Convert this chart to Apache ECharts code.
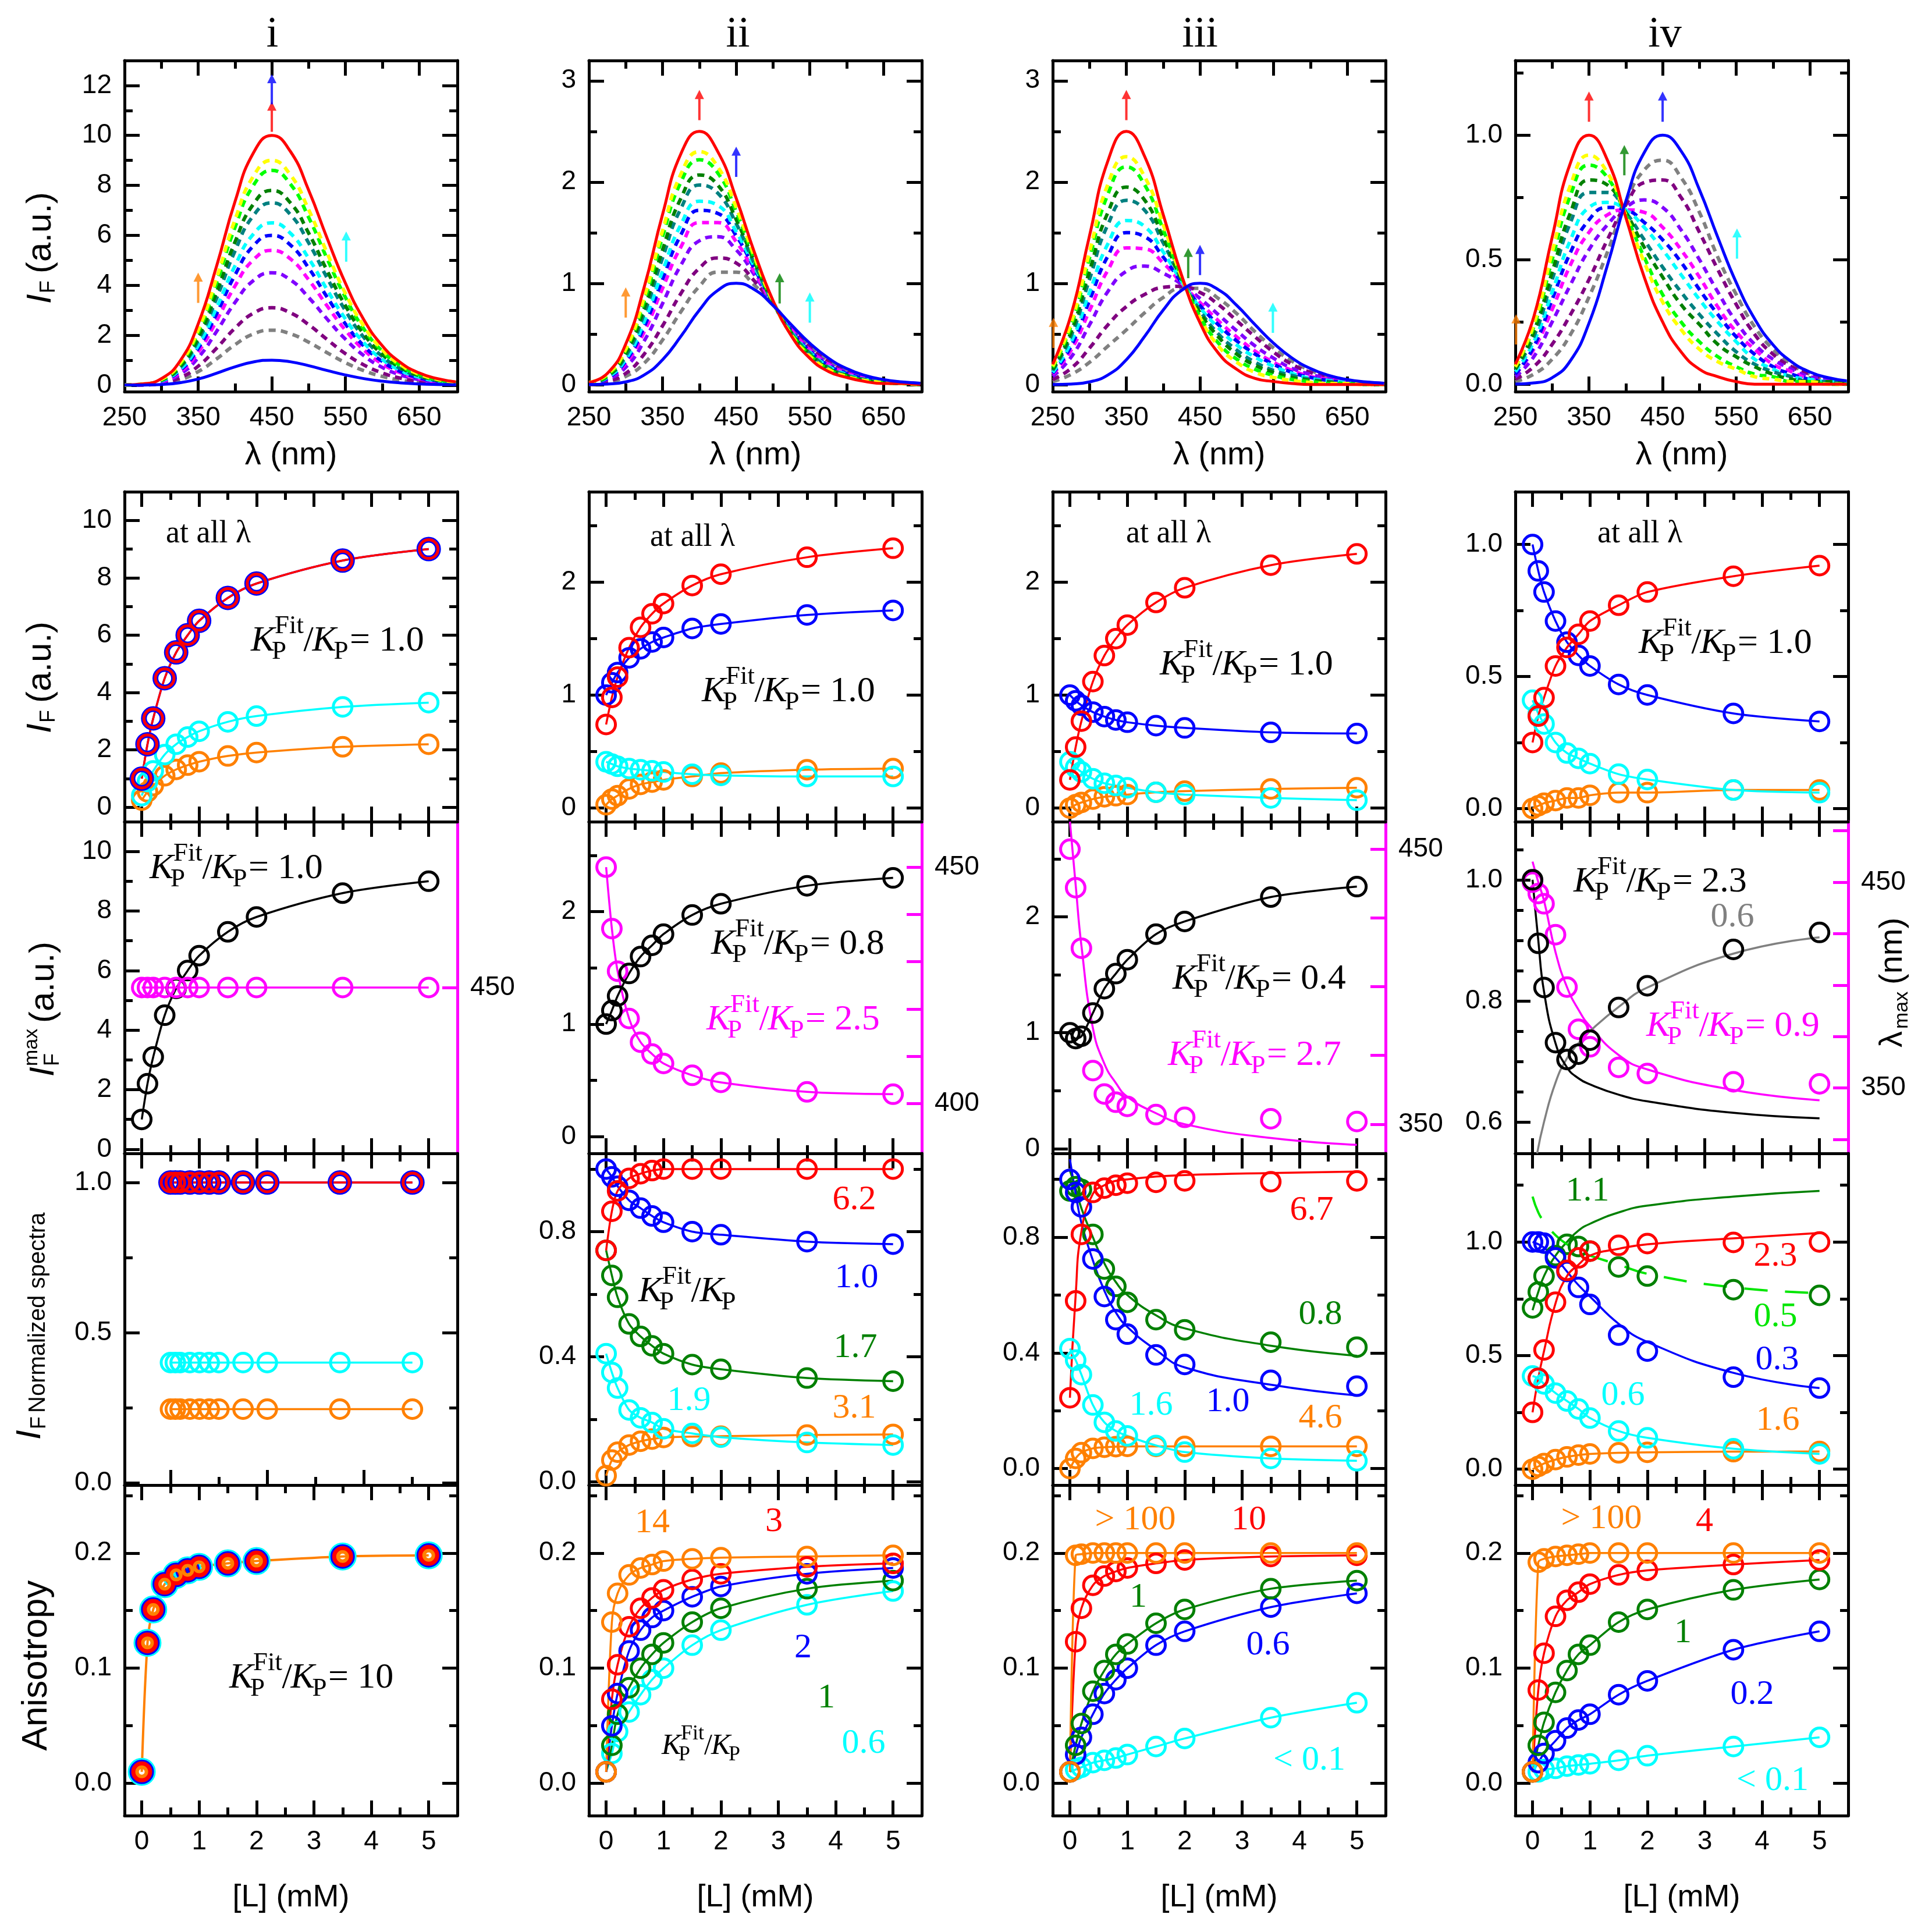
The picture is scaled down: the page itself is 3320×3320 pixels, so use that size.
<!DOCTYPE html>
<html>
<head>
<meta charset="utf-8">
<title>Titration panels</title>
<script src="https://cdn.jsdelivr.net/npm/echarts@6.0.0/dist/echarts.min.js"></script>
<style>
  html, body { margin: 0; padding: 0; background: #ffffff; }
  #chart { width: 3320px; height: 3320px; }
</style>
</head>
<body>
<div id="chart"></div>
<script>
// ---------- row 1: emission spectra, read every 25 nm ----------
const specNm = [250, 275, 300, 325, 350, 375, 400, 425, 450, 475, 500, 525, 550, 575, 600, 625, 650, 675, 700];
// free (blue, no ligand) spectrum, same in every column
const freeSpec = [0.0005, 0.005, 0.026, 0.095, 0.245, 0.477, 0.735, 0.93, 1, 0.937, 0.781, 0.589, 0.408, 0.262, 0.158, 0.09, 0.049, 0.026, 0.013];
// bound (red) spectra
const boundI = [0.01, 0.05, 0.26, 0.95, 2.45, 4.77, 7.35, 9.3, 10, 9.37, 7.81, 5.89, 4.08, 2.62, 1.58, 0.9, 0.49, 0.26, 0.13];
const boundII = [0.02, 0.11, 0.4, 0.96, 1.68, 2.28, 2.5, 2.3, 1.84, 1.3, 0.83, 0.48, 0.26, 0.13, 0.07, 0.03, 0.01, 0.01, 0];
const boundIII = [0.2, 0.69, 1.47, 2.21, 2.5, 2.25, 1.68, 1.08, 0.61, 0.31, 0.15, 0.06, 0.03, 0.01, 0, 0, 0, 0, 0];
const boundIV = [0.08, 0.27, 0.59, 0.89, 1, 0.9, 0.67, 0.43, 0.25, 0.13, 0.06, 0.03, 0.01, 0, 0, 0, 0, 0, 0];
// dashed spectra at [L] = 0.1 ... 5 mM
const titrI = [
  [0, 0.01, 0.06, 0.21, 0.54, 1.05, 1.62, 2.05, 2.2, 2.06, 1.72, 1.3, 0.9, 0.58, 0.35, 0.2, 0.11, 0.06, 0.03],
  [0, 0.01, 0.08, 0.29, 0.76, 1.48, 2.28, 2.88, 3.1, 2.9, 2.42, 1.83, 1.26, 0.81, 0.49, 0.28, 0.15, 0.08, 0.04],
  [0, 0.02, 0.12, 0.43, 1.1, 2.15, 3.31, 4.19, 4.5, 4.22, 3.51, 2.65, 1.84, 1.18, 0.71, 0.41, 0.22, 0.12, 0.06],
  [0, 0.02, 0.14, 0.51, 1.32, 2.58, 3.97, 5.02, 5.4, 5.06, 4.22, 3.18, 2.2, 1.41, 0.85, 0.49, 0.26, 0.14, 0.07],
  [0, 0.03, 0.16, 0.57, 1.47, 2.86, 4.41, 5.58, 6, 5.62, 4.69, 3.53, 2.45, 1.57, 0.95, 0.54, 0.29, 0.16, 0.08],
  [0, 0.03, 0.17, 0.62, 1.59, 3.1, 4.78, 6.05, 6.5, 6.09, 5.08, 3.83, 2.65, 1.7, 1.03, 0.59, 0.32, 0.17, 0.08],
  [0, 0.03, 0.19, 0.69, 1.79, 3.48, 5.37, 6.79, 7.3, 6.84, 5.7, 4.3, 2.98, 1.91, 1.15, 0.66, 0.36, 0.19, 0.09],
  [0, 0.04, 0.2, 0.74, 1.91, 3.72, 5.73, 7.25, 7.8, 7.31, 6.09, 4.59, 3.18, 2.04, 1.23, 0.7, 0.38, 0.2, 0.1],
  [0, 0.04, 0.22, 0.82, 2.11, 4.1, 6.32, 8, 8.6, 8.06, 6.72, 5.07, 3.51, 2.25, 1.36, 0.77, 0.42, 0.22, 0.11],
  [0, 0.04, 0.23, 0.86, 2.21, 4.29, 6.62, 8.37, 9, 8.43, 7.03, 5.3, 3.67, 2.36, 1.42, 0.81, 0.44, 0.23, 0.12]
];
const titrII = [
  [0, 0.02, 0.08, 0.21, 0.44, 0.72, 0.97, 1.11, 1.11, 0.98, 0.79, 0.57, 0.39, 0.24, 0.15, 0.08, 0.04, 0.02, 0.01],
  [0, 0.03, 0.11, 0.3, 0.58, 0.9, 1.15, 1.25, 1.2, 1.02, 0.79, 0.56, 0.37, 0.23, 0.14, 0.08, 0.04, 0.02, 0.01],
  [0.01, 0.05, 0.17, 0.43, 0.8, 1.18, 1.42, 1.46, 1.33, 1.08, 0.8, 0.55, 0.35, 0.21, 0.12, 0.07, 0.04, 0.02, 0.01],
  [0.01, 0.06, 0.21, 0.52, 0.95, 1.36, 1.6, 1.6, 1.41, 1.11, 0.8, 0.54, 0.34, 0.2, 0.11, 0.06, 0.03, 0.02, 0.01],
  [0.01, 0.06, 0.23, 0.57, 1.04, 1.48, 1.72, 1.69, 1.47, 1.14, 0.81, 0.53, 0.33, 0.19, 0.11, 0.06, 0.03, 0.01, 0.01],
  [0.01, 0.07, 0.25, 0.62, 1.12, 1.58, 1.81, 1.77, 1.51, 1.16, 0.81, 0.52, 0.32, 0.18, 0.1, 0.05, 0.03, 0.01, 0.01],
  [0.01, 0.08, 0.28, 0.7, 1.25, 1.74, 1.97, 1.89, 1.59, 1.19, 0.81, 0.51, 0.31, 0.17, 0.09, 0.05, 0.02, 0.01, 0.01],
  [0.01, 0.08, 0.31, 0.75, 1.33, 1.84, 2.07, 1.97, 1.63, 1.21, 0.81, 0.51, 0.3, 0.16, 0.09, 0.04, 0.02, 0.01, 0.01],
  [0.02, 0.09, 0.34, 0.82, 1.46, 2, 2.22, 2.09, 1.71, 1.24, 0.82, 0.5, 0.29, 0.15, 0.08, 0.04, 0.02, 0.01, 0],
  [0.02, 0.1, 0.35, 0.86, 1.52, 2.08, 2.3, 2.15, 1.75, 1.26, 0.82, 0.49, 0.28, 0.15, 0.08, 0.04, 0.02, 0.01, 0]
];
const titrIII = [
  [0.03, 0.1, 0.22, 0.38, 0.54, 0.71, 0.86, 0.95, 0.95, 0.85, 0.7, 0.52, 0.36, 0.23, 0.14, 0.08, 0.04, 0.02, 0.01],
  [0.05, 0.16, 0.36, 0.59, 0.77, 0.89, 0.96, 0.97, 0.91, 0.79, 0.63, 0.47, 0.32, 0.2, 0.12, 0.07, 0.04, 0.02, 0.01],
  [0.08, 0.27, 0.59, 0.92, 1.12, 1.17, 1.1, 0.99, 0.85, 0.69, 0.53, 0.38, 0.26, 0.16, 0.1, 0.06, 0.03, 0.02, 0.01],
  [0.1, 0.34, 0.73, 1.13, 1.35, 1.34, 1.2, 1, 0.81, 0.63, 0.47, 0.33, 0.22, 0.14, 0.08, 0.05, 0.02, 0.01, 0.01],
  [0.11, 0.38, 0.83, 1.27, 1.5, 1.46, 1.26, 1.01, 0.78, 0.59, 0.43, 0.3, 0.2, 0.12, 0.07, 0.04, 0.02, 0.01, 0.01],
  [0.12, 0.42, 0.91, 1.39, 1.62, 1.56, 1.31, 1.02, 0.76, 0.56, 0.39, 0.27, 0.18, 0.11, 0.06, 0.04, 0.02, 0.01, 0.01],
  [0.14, 0.48, 1.04, 1.58, 1.82, 1.72, 1.4, 1.04, 0.73, 0.5, 0.34, 0.22, 0.14, 0.09, 0.05, 0.03, 0.01, 0.01, 0],
  [0.15, 0.52, 1.12, 1.7, 1.95, 1.82, 1.45, 1.04, 0.71, 0.47, 0.3, 0.19, 0.12, 0.07, 0.04, 0.02, 0.01, 0.01, 0],
  [0.17, 0.58, 1.25, 1.88, 2.15, 1.97, 1.53, 1.06, 0.67, 0.41, 0.25, 0.15, 0.09, 0.05, 0.03, 0.01, 0.01, 0, 0],
  [0.18, 0.61, 1.31, 1.98, 2.25, 2.05, 1.58, 1.06, 0.66, 0.38, 0.22, 0.12, 0.07, 0.04, 0.02, 0.01, 0.01, 0, 0]
];
const titrIV = [
  [0.01, 0.04, 0.1, 0.2, 0.35, 0.53, 0.73, 0.86, 0.9, 0.83, 0.69, 0.51, 0.36, 0.23, 0.14, 0.08, 0.04, 0.02, 0.01],
  [0.02, 0.07, 0.16, 0.28, 0.42, 0.58, 0.72, 0.81, 0.82, 0.75, 0.61, 0.46, 0.32, 0.2, 0.12, 0.07, 0.04, 0.02, 0.01],
  [0.03, 0.11, 0.25, 0.4, 0.54, 0.64, 0.71, 0.74, 0.71, 0.62, 0.5, 0.37, 0.25, 0.16, 0.1, 0.06, 0.03, 0.02, 0.01],
  [0.04, 0.14, 0.3, 0.48, 0.61, 0.68, 0.7, 0.69, 0.63, 0.54, 0.43, 0.31, 0.21, 0.14, 0.08, 0.05, 0.02, 0.01, 0.01],
  [0.04, 0.15, 0.34, 0.53, 0.66, 0.71, 0.7, 0.65, 0.58, 0.49, 0.38, 0.28, 0.19, 0.12, 0.07, 0.04, 0.02, 0.01, 0.01],
  [0.05, 0.17, 0.37, 0.58, 0.71, 0.73, 0.7, 0.63, 0.54, 0.44, 0.34, 0.25, 0.17, 0.1, 0.06, 0.03, 0.02, 0.01, 0.01],
  [0.06, 0.19, 0.42, 0.65, 0.77, 0.77, 0.69, 0.58, 0.47, 0.37, 0.28, 0.2, 0.13, 0.08, 0.05, 0.03, 0.01, 0.01, 0],
  [0.06, 0.21, 0.45, 0.69, 0.82, 0.8, 0.69, 0.55, 0.43, 0.32, 0.24, 0.16, 0.11, 0.07, 0.04, 0.02, 0.01, 0.01, 0],
  [0.07, 0.23, 0.5, 0.76, 0.88, 0.83, 0.68, 0.51, 0.36, 0.25, 0.17, 0.11, 0.07, 0.04, 0.03, 0.01, 0.01, 0, 0],
  [0.07, 0.24, 0.53, 0.8, 0.92, 0.85, 0.68, 0.49, 0.33, 0.22, 0.14, 0.09, 0.06, 0.03, 0.02, 0.01, 0.01, 0, 0]
];
const dashColors = ['#808080', '#800080', '#8000ff', '#ff00ff', '#0000ff', '#00ffff', '#008080', '#008000', '#00ff00', '#ffff00'];
// arrows marking the read-out wavelengths: [nm, height, colour]
const arrowsI = [[350, 3.9, '#ff8000'], [450, 10.75, '#ff0000'], [450, 11.85, '#0000ff'], [551, 5.55, '#00ffff']];
const arrowsII = [[300, 0.81, '#ff8000'], [400, 2.76, '#ff0000'], [450, 2.2, '#0000ff'], [509, 0.95, '#008000'], [550, 0.76, '#00ffff']];
const arrowsIII = [[251, 0.51, '#ff8000'], [350, 2.76, '#ff0000'], [434, 1.2, '#008000'], [450, 1.23, '#0000ff'], [549, 0.66, '#00ffff']];
const arrowsIV = [[251, 0.22, '#ff8000'], [350, 1.115, '#ff0000'], [398, 0.9, '#008000'], [450, 1.115, '#0000ff'], [551, 0.565, '#00ffff']];

// ---------- rows 2-5: titration points, [L] in mM ----------
const L = [0, 0.1, 0.2, 0.4, 0.6, 0.8, 1.0, 1.5, 2.0, 3.5, 5.0];
const grayL = [0.08, 0.2, 0.4, 0.6, 0.8, 1.0, 1.5, 2.0, 3.5, 5.0];

// row 2: I_F at the arrow wavelengths
const r2iRed = [1.0, 2.2, 3.1, 4.5, 5.4, 6.0, 6.5, 7.3, 7.8, 8.6, 9.0];
const r2iBlue = [1.0, 2.2, 3.1, 4.5, 5.4, 6.0, 6.5, 7.3, 7.8, 8.6, 9.0];
const r2iCyan = [0.41, 0.9, 1.27, 1.84, 2.2, 2.45, 2.65, 2.98, 3.18, 3.5, 3.65];
const r2iOrange = [0.25, 0.54, 0.76, 1.1, 1.32, 1.47, 1.59, 1.79, 1.91, 2.11, 2.2];
const r2iiRed = [0.74, 0.98, 1.16, 1.42, 1.6, 1.72, 1.81, 1.97, 2.07, 2.22, 2.3];
const r2iiBlue = [1.0, 1.11, 1.2, 1.33, 1.41, 1.47, 1.51, 1.59, 1.63, 1.71, 1.75];
const r2iiCyan = [0.41, 0.39, 0.37, 0.35, 0.34, 0.33, 0.32, 0.3, 0.29, 0.28, 0.28];
const r2iiOrange = [0.03, 0.08, 0.11, 0.17, 0.21, 0.23, 0.25, 0.28, 0.31, 0.34, 0.35];
const r2iiiRed = [0.25, 0.54, 0.77, 1.12, 1.35, 1.5, 1.62, 1.82, 1.95, 2.15, 2.25];
const r2iiiBlue = [1.0, 0.95, 0.91, 0.85, 0.81, 0.78, 0.76, 0.73, 0.71, 0.67, 0.66];
const r2iiiCyan = [0.41, 0.36, 0.32, 0.26, 0.22, 0.2, 0.18, 0.14, 0.12, 0.09, 0.07];
const r2iiiOrange = [0, 0.03, 0.05, 0.08, 0.1, 0.11, 0.12, 0.14, 0.15, 0.17, 0.18];
const r2ivRed = [0.25, 0.35, 0.42, 0.54, 0.61, 0.66, 0.71, 0.77, 0.82, 0.88, 0.92];
const r2ivBlue = [1.0, 0.9, 0.82, 0.71, 0.63, 0.58, 0.54, 0.47, 0.43, 0.36, 0.33];
const r2ivCyan = [0.41, 0.36, 0.32, 0.25, 0.21, 0.19, 0.17, 0.13, 0.11, 0.07, 0.06];
const r2ivOrange = [0, 0.01, 0.02, 0.03, 0.04, 0.04, 0.05, 0.06, 0.06, 0.07, 0.07];

// row 3: I_F max (left) and lambda max (right, nm)
const r3iMax = [1.0, 2.2, 3.1, 4.5, 5.4, 6.0, 6.5, 7.3, 7.8, 8.6, 9.0];
const r3iLam = [450, 450, 450, 450, 450, 450, 450, 450, 450, 450, 450];
const r3iiMax = [1.0, 1.12, 1.25, 1.45, 1.6, 1.7, 1.8, 1.97, 2.07, 2.23, 2.3];
const r3iiLam = [450, 437, 428, 418, 413, 410.5, 408.5, 406, 404.5, 402.5, 402];
const r3iiiMax = [1.0, 0.95, 0.97, 1.17, 1.38, 1.51, 1.63, 1.85, 1.96, 2.17, 2.26];
const r3iiiLam = [450, 436, 414, 369.5, 361, 358, 356.5, 353.5, 352.5, 352, 351];
const r3iiiLamFit = [460, 437, 415, 385, 372, 365, 360, 354, 350, 345, 342.5];
const r3ivMax = [1.0, 0.895, 0.822, 0.731, 0.703, 0.712, 0.735, 0.789, 0.825, 0.885, 0.913];
const r3ivMaxFit = [1.0, 0.9, 0.815, 0.73, 0.69, 0.672, 0.662, 0.645, 0.634, 0.615, 0.606];
const r3ivMaxFit2 = [0.548, 0.6, 0.665, 0.705, 0.73, 0.75, 0.79, 0.822, 0.878, 0.905];
const r3ivLam = [450, 444.5, 439.5, 424.5, 399, 378.5, 370, 360, 357, 353, 352];
const r3ivLamFit = [460, 450, 441, 416, 399, 388, 380, 366, 359, 349, 344];

// row 4: normalized spectra
const r4iRed = [1, 1, 1, 1, 1, 1, 1, 1, 1, 1, 1];
const r4iBlue = [1, 1, 1, 1, 1, 1, 1, 1, 1, 1, 1];
const r4iCyan = [0.4, 0.4, 0.4, 0.4, 0.4, 0.4, 0.4, 0.4, 0.4, 0.4, 0.4];
const r4iOrange = [0.245, 0.245, 0.245, 0.245, 0.245, 0.245, 0.245, 0.245, 0.245, 0.245, 0.245];
const r4iiRed = [0.74, 0.865, 0.93, 0.97, 0.985, 0.995, 1.0, 1.0, 1.0, 1.0, 1.0];
const r4iiBlue = [1.0, 0.975, 0.945, 0.9, 0.875, 0.85, 0.83, 0.8, 0.79, 0.768, 0.76];
const r4iiGreen = [0.74, 0.66, 0.59, 0.505, 0.465, 0.435, 0.41, 0.375, 0.36, 0.332, 0.322];
const r4iiCyan = [0.41, 0.35, 0.3, 0.23, 0.205, 0.19, 0.17, 0.155, 0.143, 0.126, 0.118];
const r4iiOrange = [0.02, 0.07, 0.095, 0.118, 0.13, 0.137, 0.142, 0.145, 0.146, 0.15, 0.152];
const r4iiiRed = [0.245, 0.58, 0.81, 0.955, 0.97, 0.98, 0.987, 0.99, 0.995, 0.992, 0.995];
const r4iiiRedFit = [0.245, 0.6, 0.82, 0.95, 0.98, 0.995, 1.0, 1.01, 1.015, 1.022, 1.027];
const r4iiiBlue = [1.0, 0.955, 0.905, 0.725, 0.595, 0.515, 0.465, 0.393, 0.36, 0.305, 0.285];
const r4iiiBlueFit = [1.07, 0.95, 0.85, 0.72, 0.615, 0.54, 0.49, 0.41, 0.35, 0.29, 0.253];
const r4iiiGreen = [0.96, 0.975, 0.965, 0.81, 0.69, 0.63, 0.575, 0.515, 0.48, 0.437, 0.42];
const r4iiiGreenFit = [1.03, 0.97, 0.9, 0.8, 0.71, 0.645, 0.6, 0.53, 0.485, 0.425, 0.39];
const r4iiiCyan = [0.415, 0.375, 0.325, 0.22, 0.16, 0.13, 0.113, 0.08, 0.057, 0.035, 0.027];
const r4iiiOrange = [0, 0.035, 0.055, 0.07, 0.074, 0.076, 0.077, 0.077, 0.077, 0.077, 0.077];
const r4ivRed = [0.25, 0.4, 0.525, 0.735, 0.875, 0.93, 0.96, 0.985, 0.993, 0.998, 1.0];
const r4ivRedFit = [0.25, 0.4, 0.52, 0.73, 0.85, 0.9, 0.94, 0.97, 0.99, 1.016, 1.04];
const r4ivBlue = [1.0, 1.0, 0.995, 0.93, 0.87, 0.8, 0.725, 0.59, 0.52, 0.405, 0.357];
const r4ivBlueFit = [1.0, 0.99, 0.975, 0.93, 0.87, 0.81, 0.76, 0.64, 0.56, 0.424, 0.357];
const r4ivGreen = [0.71, 0.78, 0.85, 0.94, 0.99, 0.98, 0.96, 0.89, 0.85, 0.79, 0.765];
const r4ivGreenFit = [0.7, 0.78, 0.85, 0.94, 1.0, 1.05, 1.08, 1.13, 1.16, 1.2, 1.225];
const r4ivGreenFit2 = [1.2, 1.13, 1.09, 1.03, 0.99, 0.96, 0.94, 0.9, 0.86, 0.8, 0.775];
const r4ivCyan = [0.41, 0.4, 0.375, 0.335, 0.3, 0.265, 0.225, 0.168, 0.138, 0.09, 0.067];
const r4ivOrange = [0, 0.012, 0.025, 0.042, 0.054, 0.062, 0.067, 0.072, 0.074, 0.077, 0.078];

// row 5: anisotropy
const r5iAll = [0.01, 0.122, 0.151, 0.173, 0.181, 0.185, 0.188, 0.191, 0.193, 0.197, 0.198];
const r5iiOrange = [0.01, 0.14, 0.165, 0.181, 0.187, 0.19, 0.193, 0.195, 0.196, 0.197, 0.198];
const r5iiRed = [0.01, 0.073, 0.103, 0.136, 0.152, 0.161, 0.168, 0.177, 0.182, 0.188, 0.191];
const r5iiBlue = [0.01, 0.05, 0.078, 0.115, 0.133, 0.144, 0.15, 0.162, 0.171, 0.182, 0.187];
const r5iiGreen = [0.01, 0.033, 0.06, 0.083, 0.1, 0.112, 0.122, 0.14, 0.152, 0.169, 0.176];
const r5iiCyan = [0.01, 0.026, 0.045, 0.062, 0.077, 0.09, 0.1, 0.12, 0.133, 0.155, 0.167];
const r5iiiOrange = [0.01, 0.198, 0.199, 0.2, 0.2, 0.2, 0.2, 0.2, 0.2, 0.2, 0.2];
const r5iiiRed = [0.01, 0.123, 0.152, 0.172, 0.18, 0.184, 0.187, 0.191, 0.194, 0.197, 0.198];
const r5iiiGreen = [0.01, 0.033, 0.052, 0.08, 0.098, 0.112, 0.121, 0.139, 0.151, 0.169, 0.176];
const r5iiiBlue = [0.01, 0.025, 0.04, 0.06, 0.078, 0.09, 0.1, 0.12, 0.132, 0.153, 0.165];
const r5iiiCyan = [0.01, 0.012, 0.014, 0.018, 0.02, 0.022, 0.025, 0.032, 0.039, 0.057, 0.07];
const r5ivOrange = [0.01, 0.192, 0.195, 0.197, 0.198, 0.199, 0.2, 0.2, 0.2, 0.2, 0.2];
const r5ivRed = [0.01, 0.081, 0.113, 0.145, 0.159, 0.166, 0.173, 0.181, 0.185, 0.19, 0.194];
const r5ivGreen = [0.01, 0.033, 0.053, 0.079, 0.098, 0.112, 0.12, 0.14, 0.151, 0.168, 0.177];
const r5ivBlue = [0.01, 0.018, 0.026, 0.037, 0.048, 0.055, 0.06, 0.077, 0.089, 0.116, 0.132];
const r5ivCyan = [0.01, 0.01, 0.012, 0.013, 0.015, 0.016, 0.017, 0.02, 0.024, 0.032, 0.04];

// ---------- layout ----------
const colLeft = [214, 1012, 1809, 2604];
const colW = 572;
const rowTop = [104, 845, 1412, 1982, 2552];
const rowH = [569, 567, 570, 570, 568];

const sans = "'Liberation Sans', Arial, sans-serif";
const serif = "'Liberation Serif', 'Times New Roman', serif";
const C = { red: '#ff0000', blue: '#0000ff', cyan: '#00ffff', orange: '#ff8000', green: '#008000',
            lime: '#00e600', magenta: '#ff00ff', black: '#000000', gray: '#808080' };

// axis tick / range specs
const xNm = { min: 250, max: 702, major: [250, 350, 450, 550, 650], minor: [300, 400, 500, 600] };
const xConc = { min: -0.3, max: 5.5, major: [0, 1, 2, 3, 4, 5], minor: [0.5, 1.5, 2.5, 3.5, 4.5] };
const xConcAlt = { min: -0.95, max: 5.93, major: [0, 2, 4], minor: [1, 3, 5] };
const ySpecs = [
  [ { min: -0.26, max: 13, major: [0, 2, 4, 6, 8, 10, 12], minor: [1, 3, 5, 7, 9, 11] },
    { min: -0.07, max: 3.2, major: [0, 1, 2, 3], minor: [0.5, 1.5, 2.5] },
    { min: -0.07, max: 3.2, major: [0, 1, 2, 3], minor: [0.5, 1.5, 2.5] },
    { min: -0.03, max: 1.3, major: [0, 0.5, 1], minor: [0.25, 0.75, 1.25], dec: 1 } ],
  [ { min: -0.5, max: 11, major: [0, 2, 4, 6, 8, 10], minor: [1, 3, 5, 7, 9] },
    { min: -0.12, max: 2.8, major: [0, 1, 2], minor: [0.5, 1.5, 2.5] },
    { min: -0.12, max: 2.8, major: [0, 1, 2], minor: [0.5, 1.5, 2.5] },
    { min: -0.05, max: 1.2, major: [0, 0.5, 1], minor: [0.25, 0.75], dec: 1 } ],
  [ { min: -0.14, max: 11, major: [0, 2, 4, 6, 8, 10], minor: [1, 3, 5, 7, 9] },
    { min: -0.15, max: 2.8, major: [0, 1, 2], minor: [0.5, 1.5, 2.5] },
    { min: -0.04, max: 2.82, major: [0, 1, 2], minor: [0.5, 1.5, 2.5] },
    { min: 0.548, max: 1.096, major: [0.6, 0.8, 1.0], minor: [0.65, 0.7, 0.75, 0.85, 0.9, 0.95, 1.05], dec: 1 } ],
  [ { min: -0.008, max: 1.097, major: [0, 0.5, 1], minor: [0.25, 0.75], dec: 1 },
    { min: -0.01, max: 1.05, major: [0, 0.4, 0.8], minor: [0.2, 0.6, 1.0], dec: 1 },
    { min: -0.057, max: 1.09, major: [0, 0.4, 0.8], minor: [0.2, 0.6, 1.0], dec: 1 },
    { min: -0.07, max: 1.39, major: [0, 0.5, 1], minor: [0.25, 0.75, 1.25], dec: 1 } ],
  [ { min: -0.028, max: 0.259, major: [0, 0.1, 0.2], minor: [0.05, 0.15, 0.25], dec: 1 },
    { min: -0.028, max: 0.259, major: [0, 0.1, 0.2], minor: [0.05, 0.15, 0.25], dec: 1 },
    { min: -0.028, max: 0.259, major: [0, 0.1, 0.2], minor: [0.05, 0.15, 0.25], dec: 1 },
    { min: -0.028, max: 0.259, major: [0, 0.1, 0.2], minor: [0.05, 0.15, 0.25], dec: 1 } ]
];
const yRight = [
  { min: 440, max: 460, major: [450], minor: [] },
  { min: 389.5, max: 459.6, major: [400, 410, 420, 430, 440, 450], labels: [400, 450], minor: [] },
  { min: 339.4, max: 460, major: [350, 375, 400, 425, 450], labels: [350, 450], minor: [] },
  { min: 318.2, max: 479.4, major: [325, 350, 375, 400, 425, 450, 475], labels: [350, 450], minor: [] }
];

const grids = [], xAxes = [], yAxes = [], series = [], graphics = [];
const zip = (xs, ys) => xs.map((x, i) => [x, ys[i]]);

function addAxis(list, gi, pos, spec, labels, color) {
  const col = color || '#000';
  const fmt = v => Number(v).toFixed(spec.dec || 0);
  list.push({
    type: 'value', gridIndex: gi, position: pos, min: spec.min, max: spec.max,
    axisLine: { show: true, onZero: false, lineStyle: { color: col, width: 5 } },
    axisTick: { show: true, inside: true, length: 26, customValues: spec.major, lineStyle: { color: col, width: 5 } },
    axisLabel: labels ? { show: true, customValues: spec.labels || spec.major, formatter: fmt, margin: 22,
                          color: '#000', fontSize: 46, fontFamily: sans } : { show: false },
    splitLine: { show: false }
  });
  const idx = list.length - 1;
  if (spec.minor && spec.minor.length) {
    list.push({
      type: 'value', gridIndex: gi, position: pos, min: spec.min, max: spec.max,
      axisLine: { show: false, onZero: false },
      axisTick: { show: true, inside: true, length: 14, customValues: spec.minor, lineStyle: { color: col, width: 5 } },
      axisLabel: { show: false }, splitLine: { show: false }
    });
  }
  return idx;
}

function panel(r, c, xs, ys, opt) {
  const gi = grids.length;
  grids.push({ left: colLeft[c], top: rowTop[r], width: colW, height: rowH[r], containLabel: false, outerBoundsMode: 'none' });
  const x = addAxis(xAxes, gi, 'bottom', opt.xBottom || xs, opt.xLabels);
  addAxis(xAxes, gi, 'top', xs, false);
  const y = addAxis(yAxes, gi, 'left', ys, true);
  let yr = null;
  if (opt.right) yr = addAxis(yAxes, gi, 'right', opt.right, true, C.magenta);
  else addAxis(yAxes, gi, 'right', ys, false);
  return { x, y, yr };
}

const P = [];
for (let r = 0; r < 5; r++) {
  P.push([]);
  for (let c = 0; c < 4; c++) {
    P[r].push(panel(r, c, r === 0 ? xNm : xConc, ySpecs[r][c], {
      xLabels: r === 0 || r === 4,
      xBottom: (r === 3 && c === 0) ? xConcAlt : null,
      right: r === 2 ? yRight[c] : null
    }));
  }
}

function curve(p, xs, ys, color, width, dash, right) {
  series.push({
    type: 'line', xAxisIndex: p.x, yAxisIndex: right ? p.yr : p.y, data: zip(xs, ys),
    symbol: 'none', showSymbol: false, smooth: 0.5,
    lineStyle: { color, width, type: dash || 'solid' }, z: 2, silent: true
  });
}
function ring(p, xs, ys, color, o) {
  o = o || {};
  series.push({
    type: 'line', xAxisIndex: p.x, yAxisIndex: o.right ? p.yr : p.y, data: zip(xs, ys),
    symbol: 'circle', symbolSize: o.size || 32, showSymbol: true, smooth: 0.3,
    lineStyle: o.noLine ? { width: 0, opacity: 0 } : { color, width: o.lw || 3.5 },
    itemStyle: { color: 'rgba(255,255,255,0)', borderColor: color, borderWidth: o.bw || 5 },
    z: 3, silent: true
  });
}
const ARROW = 'path://M8 0 L16 18 L10 18 L10 60 L6 60 L6 18 L0 18 Z';
function arrows(p, list) {
  list.forEach(a => series.push({
    type: 'scatter', xAxisIndex: p.x, yAxisIndex: p.y, data: [[a[0], a[1]]],
    symbol: ARROW, symbolSize: [16, 52], itemStyle: { color: a[2] }, z: 6, silent: true
  }));
}

// row 1
const titr = [titrI, titrII, titrIII, titrIV];
const bound = [boundI, boundII, boundIII, boundIV];
const arrowSets = [arrowsI, arrowsII, arrowsIII, arrowsIV];
for (let c = 0; c < 4; c++) {
  titr[c].forEach((ys, k) => curve(P[0][c], specNm, ys, dashColors[k], 6, [12, 9]));
  curve(P[0][c], specNm, bound[c], C.red, 5);
  curve(P[0][c], specNm, freeSpec, C.blue, 5);
  arrows(P[0][c], arrowSets[c]);
}

// row 2
ring(P[1][0], L, r2iOrange, C.orange);
ring(P[1][0], L, r2iCyan, C.cyan);
ring(P[1][0], L, r2iBlue, C.blue, { bw: 10 });
ring(P[1][0], L, r2iRed, C.red);
ring(P[1][1], L, r2iiOrange, C.orange);
ring(P[1][1], L, r2iiCyan, C.cyan);
ring(P[1][1], L, r2iiBlue, C.blue);
ring(P[1][1], L, r2iiRed, C.red);
ring(P[1][2], L, r2iiiOrange, C.orange);
ring(P[1][2], L, r2iiiCyan, C.cyan);
ring(P[1][2], L, r2iiiBlue, C.blue);
ring(P[1][2], L, r2iiiRed, C.red);
ring(P[1][3], L, r2ivOrange, C.orange);
ring(P[1][3], L, r2ivCyan, C.cyan);
ring(P[1][3], L, r2ivBlue, C.blue);
ring(P[1][3], L, r2ivRed, C.red);

// row 3
ring(P[2][0], L, r3iMax, C.black);
ring(P[2][0], L, r3iLam, C.magenta, { right: true });
ring(P[2][1], L, r3iiLam, C.magenta, { right: true });
ring(P[2][1], L, r3iiMax, C.black);
ring(P[2][2], L, r3iiiLam, C.magenta, { right: true, noLine: true });
curve(P[2][2], L, r3iiiLamFit, C.magenta, 3.5, null, true);
ring(P[2][2], L, r3iiiMax, C.black);
ring(P[2][3], L, r3ivLam, C.magenta, { right: true, noLine: true });
curve(P[2][3], L, r3ivLamFit, C.magenta, 3.5, null, true);
curve(P[2][3], grayL, r3ivMaxFit2, C.gray, 3.5);
curve(P[2][3], L, r3ivMaxFit, C.black, 3.5);
ring(P[2][3], L, r3ivMax, C.black, { noLine: true });

// row 4
ring(P[3][0], L, r4iOrange, C.orange);
ring(P[3][0], L, r4iCyan, C.cyan);
ring(P[3][0], L, r4iBlue, C.blue, { bw: 10 });
ring(P[3][0], L, r4iRed, C.red);
ring(P[3][1], L, r4iiOrange, C.orange);
ring(P[3][1], L, r4iiCyan, C.cyan);
ring(P[3][1], L, r4iiGreen, C.green);
ring(P[3][1], L, r4iiBlue, C.blue);
ring(P[3][1], L, r4iiRed, C.red);
ring(P[3][2], L, r4iiiOrange, C.orange);
ring(P[3][2], L, r4iiiCyan, C.cyan);
ring(P[3][2], L, r4iiiGreen, C.green, { noLine: true });
curve(P[3][2], L, r4iiiGreenFit, C.green, 3.5);
ring(P[3][2], L, r4iiiBlue, C.blue, { noLine: true });
curve(P[3][2], L, r4iiiBlueFit, C.blue, 3.5);
ring(P[3][2], L, r4iiiRed, C.red, { noLine: true });
curve(P[3][2], L, r4iiiRedFit, C.red, 3.5);
ring(P[3][3], L, r4ivOrange, C.orange);
ring(P[3][3], L, r4ivCyan, C.cyan);
ring(P[3][3], L, r4ivGreen, C.green, { noLine: true });
curve(P[3][3], L, r4ivGreenFit, C.green, 3.5);
curve(P[3][3], L, r4ivGreenFit2, C.lime, 4, [40, 30]);
ring(P[3][3], L, r4ivBlue, C.blue, { noLine: true });
curve(P[3][3], L, r4ivBlueFit, C.blue, 3.5);
ring(P[3][3], L, r4ivRed, C.red, { noLine: true });
curve(P[3][3], L, r4ivRedFit, C.red, 3.5);

// row 5
ring(P[4][0], L, r5iAll, C.cyan, { size: 42, bw: 6, noLine: true });
ring(P[4][0], L, r5iAll, C.blue, { size: 36, bw: 6, noLine: true });
ring(P[4][0], L, r5iAll, C.red, { size: 28, bw: 8, noLine: true });
ring(P[4][0], L, r5iAll, C.orange, { size: 16, bw: 6, lw: 4 });
ring(P[4][1], L, r5iiCyan, C.cyan);
ring(P[4][1], L, r5iiGreen, C.green);
ring(P[4][1], L, r5iiBlue, C.blue);
ring(P[4][1], L, r5iiRed, C.red);
ring(P[4][1], L, r5iiOrange, C.orange);
ring(P[4][2], L, r5iiiCyan, C.cyan);
ring(P[4][2], L, r5iiiBlue, C.blue);
ring(P[4][2], L, r5iiiGreen, C.green);
ring(P[4][2], L, r5iiiRed, C.red);
ring(P[4][2], L, r5iiiOrange, C.orange);
ring(P[4][3], L, r5ivCyan, C.cyan);
ring(P[4][3], L, r5ivBlue, C.blue);
ring(P[4][3], L, r5ivGreen, C.green);
ring(P[4][3], L, r5ivRed, C.red);
ring(P[4][3], L, r5ivOrange, C.orange);

// ---------- text ----------
function txt(x, y, s, font, fill, align) {
  graphics.push({ type: 'text', x, y, silent: true,
    style: { text: s, font, fill: fill || '#000', textAlign: align || 'center', textVerticalAlign: 'middle' } });
}
function piece(s, dx, dy, font, fill) {
  return { type: 'text', x: dx, y: dy, silent: true,
    style: { text: s, font, fill: fill || '#000', textAlign: 'left', textVerticalAlign: 'middle' } };
}
// K_P^Fit / K_P = value
function kLabel(x, y, tail, color, s) {
  const sm = Math.round(s * 0.72);
  const it = 'italic ' + s + 'px ' + serif, up = s + 'px ' + serif, small = sm + 'px ' + serif;
  const kids = [
    piece('K', 0, 0, it, color), piece('Fit', 0.66 * s, -0.42 * s, small, color), piece('P', 0.58 * s, 0.3 * s, small, color),
    piece('/', 1.46 * s, 0, up, color), piece('K', 1.7 * s, 0, it, color), piece('P', 2.3 * s, 0.3 * s, small, color)
  ];
  if (tail) kids.push(piece(tail, 2.74 * s, 0, up, color));
  graphics.push({ type: 'group', x, y, silent: true, children: kids });
}
function vGroup(x, y, width, kids) {
  kids.forEach(k => { k.x -= width / 2; });
  graphics.push({ type: 'group', x, y, rotation: Math.PI / 2, silent: true, children: kids });
}

// column titles
txt(468, 61, 'i', '74px ' + serif);
txt(1268, 61, 'ii', '74px ' + serif);
txt(2062, 61, 'iii', '74px ' + serif);
txt(2861, 61, 'iv', '74px ' + serif);

// x axis names
for (let c = 0; c < 4; c++) {
  txt(colLeft[c] + colW / 2, 783, 'λ (nm)', '56px ' + sans);
  txt(colLeft[c] + colW / 2, 3261, '[L] (mM)', '54px ' + sans);
}

// y axis names
const iF = 'italic 60px ' + sans, sub = '36px ' + sans, par = '60px ' + sans;
vGroup(70, 426, 192, [piece('I', 0, 0, iF), piece('F', 18, 14, sub), piece('(a.u.)', 52, 0, par)]);
vGroup(70, 1164, 192, [piece('I', 0, 0, iF), piece('F', 18, 14, sub), piece('(a.u.)', 52, 0, par)]);
vGroup(75, 1734, 232, [piece('I', 0, 0, iF), piece('max', 18, -20, '34px ' + sans), piece('F', 18, 16, sub), piece('(a.u.)', 92, 0, par)]);
vGroup(52, 2279, 390, [piece('I', 0, 0, iF), piece('F', 18, 16, sub), piece('Normalized spectra', 46, 14, '40px ' + sans)]);
vGroup(63, 2862, 0, [piece('Anisotropy', 0, 0, '62px ' + sans)]);
graphics[graphics.length - 1].children[0].style.textAlign = 'center';
vGroup(3253, 1689, 222, [piece('λ', 0, 0, '56px ' + sans), piece('max', 32, 16, '34px ' + sans), piece('(nm)', 108, 0, '56px ' + sans)]);

// row 2 annotations
const allLam = 'at all λ';
txt(358, 918, allLam, '54px ' + serif);
txt(1190, 924, allLam, '54px ' + serif);
txt(2008, 918, allLam, '54px ' + serif);
txt(2818, 918, allLam, '54px ' + serif);
kLabel(431, 1102, '= 1.0', C.black, 62);
kLabel(1206, 1189, '= 1.0', C.black, 62);
kLabel(1993, 1143, '= 1.0', C.black, 62);
kLabel(2816, 1106, '= 1.0', C.black, 62);

// row 3 annotations
kLabel(257, 1493, '= 1.0', C.black, 62);
kLabel(1222, 1623, '= 0.8', C.black, 62);
kLabel(1214, 1753, '= 2.5', C.magenta, 62);
kLabel(2015, 1683, '= 0.4', C.black, 62);
kLabel(2007, 1814, '= 2.7', C.magenta, 62);
kLabel(2704, 1516, '= 2.3', C.black, 62);
kLabel(2829, 1764, '= 0.9', C.magenta, 62);
txt(2977, 1576, '0.6', '60px ' + serif, C.gray);

// row 4 annotations
const num = '60px ' + serif;
kLabel(1097, 2220, null, C.black, 62);
txt(1468, 2062, '6.2', num, C.red);
txt(1472, 2196, '1.0', num, C.blue);
txt(1470, 2316, '1.7', num, C.green);
txt(1184, 2407, '1.9', num, C.cyan);
txt(1468, 2420, '3.1', num, C.orange);
txt(2254, 2080, '6.7', num, C.red);
txt(2269, 2259, '0.8', num, C.green);
txt(1978, 2415, '1.6', num, C.cyan);
txt(2110, 2409, '1.0', num, C.blue);
txt(2269, 2437, '4.6', num, C.orange);
txt(2728, 2047, '1.1', num, C.green);
txt(3051, 2159, '2.3', num, C.red);
txt(3051, 2263, '0.5', num, C.lime);
txt(3054, 2337, '0.3', num, C.blue);
txt(2789, 2398, '0.6', num, C.cyan);
txt(3055, 2441, '1.6', num, C.orange);

// row 5 annotations
kLabel(394, 2884, '= 10', C.black, 62);
kLabel(1137, 3001, null, C.black, 50);
txt(1121, 2617, '14', num, C.orange);
txt(1330, 2615, '3', num, C.red);
txt(1380, 2832, '2', num, C.blue);
txt(1420, 2918, '1', num, C.green);
txt(1484, 2996, '0.6', num, C.cyan);
txt(1951, 2612, '> 100', num, C.orange);
txt(2146, 2612, '10', num, C.red);
txt(1956, 2745, '1', num, C.green);
txt(2179, 2827, '0.6', num, C.blue);
txt(2250, 3025, '< 0.1', num, C.cyan);
txt(2752, 2610, '> 100', num, C.orange);
txt(2929, 2615, '4', num, C.red);
txt(2892, 2806, '1', num, C.green);
txt(3011, 2912, '0.2', num, C.blue);
txt(3046, 3060, '< 0.1', num, C.cyan);

const chart = echarts.init(document.getElementById('chart'), null, { renderer: 'canvas' });
chart.setOption({
  animation: false,
  backgroundColor: '#ffffff',
  grid: grids,
  xAxis: xAxes,
  yAxis: yAxes,
  series: series,
  graphic: { elements: graphics }
});
</script>
</body>
</html>
